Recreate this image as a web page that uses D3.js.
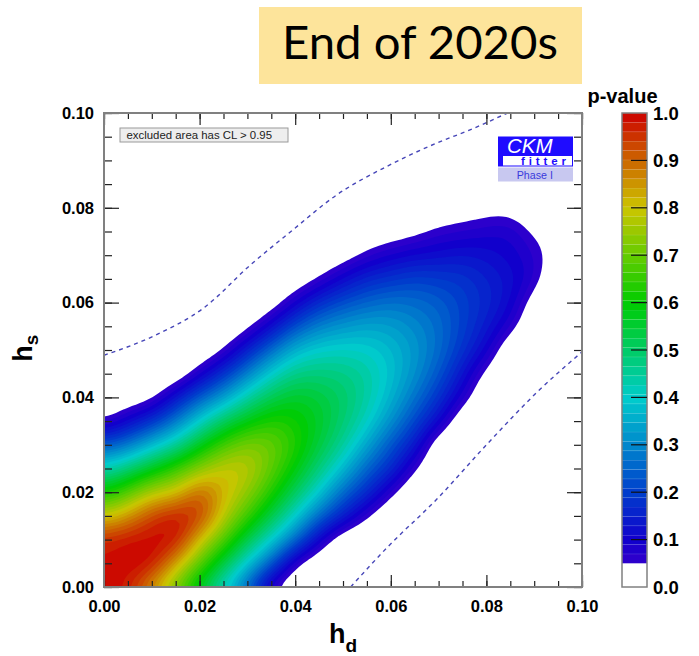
<!DOCTYPE html>
<html><head><meta charset="utf-8">
<script src="https://cdn.jsdelivr.net/npm/d3@7"></script>
<style>
html,body{margin:0;padding:0;background:#fff;}
svg{display:block;}
</style></head><body>
<svg id="chart" width="699" height="656"></svg>
<script>
// ---------------- data ----------------
// grid nodes: h_d columns and h_s rows, step 0.005
const hdNodes = [0,0.005,0.01,0.015,0.02,0.025,0.03,0.035,0.04,0.045,0.05,0.055,0.06,0.065,0.07,0.075,0.08,0.085,0.09,0.095,0.1];
const hsNodes = [0,0.005,0.01,0.015,0.02,0.025,0.03,0.035,0.04,0.045,0.05,0.055,0.06,0.065,0.07,0.075,0.08,0.085,0.09,0.095,0.1];

// p-value at each node; one row per h_s value (bottom row first)
const pValueGrid = [
  [1.00,0.97,0.85,0.71,0.56,0.41,0.25,0.05,0,0,0,0,0,0,0,0,0,0,0,0,0],
  [0.98,1.00,0.98,0.84,0.69,0.54,0.39,0.24,0.055,0,0,0,0,0,0,0,0,0,0,0,0],
  [0.96,0.98,0.99,0.98,0.81,0.68,0.53,0.40,0.26,0.10,0,0,0,0,0,0,0,0,0,0,0],
  [0.79,0.85,0.93,0.97,0.94,0.78,0.66,0.53,0.40,0.26,0.15,0.05,0,0,0,0,0,0,0,0,0],
  [0.61,0.68,0.77,0.80,0.90,0.82,0.74,0.63,0.51,0.39,0.26,0.17,0.06,0,0,0,0,0,0,0,0],
  [0.42,0.49,0.57,0.65,0.73,0.79,0.78,0.69,0.59,0.48,0.37,0.25,0.17,0.05,0,0,0,0,0,0,0],
  [0.23,0.28,0.37,0.45,0.57,0.66,0.72,0.70,0.63,0.54,0.45,0.34,0.23,0.14,0,0,0,0,0,0,0],
  [0.045,0.11,0.18,0.28,0.40,0.51,0.58,0.63,0.61,0.56,0.49,0.41,0.31,0.21,0.11,0,0,0,0,0,0],
  [0,0.01,0.03,0.13,0.24,0.33,0.44,0.52,0.56,0.54,0.50,0.44,0.36,0.27,0.18,0.075,0,0,0,0,0],
  [0,0,0,0,0.08,0.18,0.29,0.40,0.47,0.48,0.47,0.44,0.38,0.31,0.23,0.13,0.03,0,0,0,0],
  [0,0,0,0,0,0.045,0.15,0.26,0.36,0.40,0.41,0.40,0.37,0.32,0.26,0.18,0.10,0,0,0,0],
  [0,0,0,0,0,0,0.03,0.115,0.22,0.29,0.32,0.34,0.33,0.30,0.26,0.20,0.14,0.07,0,0,0],
  [0,0,0,0,0,0,0,0.015,0.09,0.17,0.22,0.25,0.27,0.26,0.24,0.20,0.16,0.11,0.02,0,0],
  [0,0,0,0,0,0,0,0,0.01,0.05,0.11,0.16,0.18,0.20,0.19,0.18,0.15,0.12,0.07,0,0],
  [0,0,0,0,0,0,0,0,0,0.005,0.02,0.06,0.09,0.11,0.12,0.13,0.12,0.10,0.07,0.02,0],
  [0,0,0,0,0,0,0,0,0,0,0,0.01,0.02,0.035,0.06,0.07,0.08,0.085,0.04,0.02,0],
  [0,0,0,0,0,0,0,0,0,0,0,0,0,0,0.01,0.02,0.03,0.03,0.005,0,0],
  [0,0,0,0,0,0,0,0,0,0,0,0,0,0,0,0,0,0,0,0,0],
  [0,0,0,0,0,0,0,0,0,0,0,0,0,0,0,0,0,0,0,0,0],
  [0,0,0,0,0,0,0,0,0,0,0,0,0,0,0,0,0,0,0,0,0],
  [0,0,0,0,0,0,0,0,0,0,0,0,0,0,0,0,0,0,0,0,0]
];

// 95% CL lines (h_d, h_s)
const upperCL = [[0,0.0489],[0.0105,0.0530],[0.0209,0.0589],[0.0307,0.068],[0.0391,0.075],[0.0488,0.0828],[0.0593,0.0888],[0.0697,0.0937],[0.0767,0.0965],[0.0844,0.1]];
const lowerCL = [[0.0516,0],[0.0593,0.0084],[0.0697,0.0186],[0.0802,0.0302],[0.0906,0.0411],[0.1,0.0496]];

const xTicks = [0,0.02,0.04,0.06,0.08,0.10];
const yTicks = [0,0.02,0.04,0.06,0.08,0.10];
const minorTicks = [0,0.005,0.01,0.015,0.02,0.025,0.03,0.035,0.04,0.045,0.05,0.055,0.06,0.065,0.07,0.075,0.08,0.085,0.09,0.095,0.1];
const zTicks = [0,0.1,0.2,0.3,0.4,0.5,0.6,0.7,0.8,0.9,1.0];

// colour palette (p-value -> colour)
const paletteStops  = [0.05,0.1,0.2,0.3,0.4,0.5,0.6,0.7,0.8,0.9,1.0];
const paletteColors = ["#3300cc","#1100cc","#003dcc","#0088cc","#00cccc","#00cc66","#00cc00","#66cc00","#ccc500","#cc6600","#cc0000"];
const clMin = 0.05, nLevels = 48;
const levels = d3.range(nLevels).map(k => clMin + k*(1-clMin)/nLevels);

// ---------------- layout ----------------
const svg = d3.select("#chart");
const P = {x0:104, x1:582, y0:113, y1:587};
const x = d3.scaleLinear().domain([0,0.1]).range([P.x0,P.x1]);
const y = d3.scaleLinear().domain([0,0.1]).range([P.y1,P.y0]);
const color = d3.scaleLinear().domain(paletteStops).range(paletteColors).interpolate(d3.interpolateRgb);
const fontAx = "'Liberation Sans', Arial, Helvetica, sans-serif";

svg.append("defs").append("clipPath").attr("id","plotclip")
  .append("rect").attr("x",P.x0).attr("y",P.y0).attr("width",P.x1-P.x0).attr("height",P.y1-P.y0);

// ---------------- filled p-value contours ----------------
// node grid resampled with a bicubic (Catmull-Rom) kernel, then lightly blurred, so the bands come out smooth
const nx = hdNodes.length, ny = hsNodes.length, F = 6;
const step = hdNodes[1]-hdNodes[0];
function node(i,j){ i=Math.max(0,Math.min(nx-1,i)); j=Math.max(0,Math.min(ny-1,j)); return pValueGrid[j][i]; }
function cr(p0,p1,p2,p3,t){ return 0.5*((2*p1)+(-p0+p2)*t+(2*p0-5*p1+4*p2-p3)*t*t+(-p0+3*p1-3*p2+p3)*t*t*t); }
function sample(fx,fy){
  const i=Math.min(nx-2,Math.floor(fx)), j=Math.min(ny-2,Math.floor(fy)), tx=fx-i, ty=fy-j;
  const rows=[-1,0,1,2].map(dj=>cr(node(i-1,j+dj),node(i,j+dj),node(i+1,j+dj),node(i+2,j+dj),tx));
  return cr(rows[0],rows[1],rows[2],rows[3],ty);
}
const mx=(nx-1)*F+1, my=(ny-1)*F+1;
const fine=new Float64Array(mx*my);
for(let b=0;b<my;b++) for(let a=0;a<mx;a++) fine[b*mx+a]=sample(a/F,b/F);
d3.blur2({data:fine, width:mx, height:my}, 2);

const contours = d3.contours().size([mx,my]).thresholds(levels)(fine);
const toPx = d3.geoTransform({point(gxv,gyv){ this.stream.point(x(hdNodes[0]+(gxv-0.5)/F*step), y(hsNodes[0]+(gyv-0.5)/F*step)); }});
const path = d3.geoPath(toPx);
const field = svg.append("g").attr("clip-path","url(#plotclip)");
contours.forEach((c,k) => {
  const next = k+1 < levels.length ? levels[k+1] : 1;
  field.append("path").attr("d",path(c)).attr("fill",color((c.value+next)/2));
});

// ---------------- dashed CL lines ----------------
const clLine = d3.line().x(d=>x(d[0])).y(d=>y(d[1])).curve(d3.curveMonotoneX);
[upperCL, lowerCL].forEach(s => svg.append("path").attr("d",clLine(s)).attr("fill","none")
  .attr("stroke","#4646b8").attr("stroke-width",1.4).attr("stroke-dasharray","4,4").attr("clip-path","url(#plotclip)"));

// ---------------- axes ----------------
function styleAxis(g){ g.select(".domain").remove(); g.selectAll(".tick line").attr("stroke","#222").attr("stroke-width",1.2); }
function styleLabels(sel){ sel.attr("font-family",fontAx).attr("font-weight","bold").attr("font-size",16.5).attr("fill","#000"); }
svg.append("g").attr("transform",`translate(0,${P.y1})`).call(d3.axisBottom(x).tickValues(minorTicks).tickSize(-6).tickFormat("")).call(styleAxis);
svg.append("g").attr("transform",`translate(0,${P.y1})`).call(d3.axisBottom(x).tickValues(xTicks).tickSize(-12).tickPadding(13.5).tickFormat(d3.format(".2f"))).call(styleAxis)
  .selectAll("text").call(styleLabels);
svg.append("g").attr("transform",`translate(0,${P.y0})`).call(d3.axisTop(x).tickValues(minorTicks).tickSize(-6).tickFormat("")).call(styleAxis);
svg.append("g").attr("transform",`translate(0,${P.y0})`).call(d3.axisTop(x).tickValues(xTicks).tickSize(-12).tickFormat("")).call(styleAxis);
svg.append("g").attr("transform",`translate(${P.x0},0)`).call(d3.axisLeft(y).tickValues(minorTicks).tickSize(-8).tickFormat("")).call(styleAxis);
svg.append("g").attr("transform",`translate(${P.x0},0)`).call(d3.axisLeft(y).tickValues(yTicks).tickSize(-15).tickPadding(10).tickFormat(d3.format(".2f"))).call(styleAxis)
  .selectAll("text").call(styleLabels);
svg.append("g").attr("transform",`translate(${P.x1},0)`).call(d3.axisRight(y).tickValues(minorTicks).tickSize(-8).tickFormat("")).call(styleAxis);
svg.append("g").attr("transform",`translate(${P.x1},0)`).call(d3.axisRight(y).tickValues(yTicks).tickSize(-15).tickFormat("")).call(styleAxis);
svg.append("rect").attr("x",P.x0).attr("y",P.y0).attr("width",P.x1-P.x0).attr("height",P.y1-P.y0)
  .attr("fill","none").attr("stroke","#808080").attr("stroke-width",2);

// axis titles
const xt = svg.append("text").attr("x",329).attr("y",643).attr("font-family",fontAx).attr("font-weight","bold").attr("font-size",27);
xt.append("tspan").text("h"); xt.append("tspan").attr("font-size",19).attr("dy",9).text("d");
const yt = svg.append("text").attr("transform","translate(31.7,361.7) rotate(-90)").attr("font-family",fontAx).attr("font-weight","bold").attr("font-size",27);
yt.append("tspan").text("h"); yt.append("tspan").attr("font-size",19).attr("dy",6.6).text("s");

// ---------------- note box ----------------
svg.append("rect").attr("x",120).attr("y",128).attr("width",168).attr("height",14).attr("fill","#eeeeee").attr("stroke","#9a9a9a").attr("stroke-width",1);
svg.append("text").attr("x",126.5).attr("y",139).attr("font-family",fontAx).attr("font-size",11.4).attr("fill","#222").text("excluded area has CL > 0.95");

// ---------------- CKMfitter logo ----------------
const lg = svg.append("g");
lg.append("rect").attr("x",498).attr("y",136.5).attr("width",75).attr("height",30).attr("fill","#1f0cff");
lg.append("rect").attr("x",503).attr("y",156).attr("width",69).attr("height",9.5).attr("fill","#fff");
lg.append("text").attr("x",507).attr("y",152.5).attr("font-family",fontAx).attr("font-style","italic").attr("font-size",20.5).attr("fill","#fff").text("CKM");
lg.append("text").attr("x",521).attr("y",165).attr("font-family",fontAx).attr("font-weight","bold").attr("font-size",11.5).attr("letter-spacing",3.9).attr("fill","#1f0cff").text("fitter");
lg.append("rect").attr("x",498).attr("y",167.5).attr("width",75).attr("height",14).attr("fill","#c8c8f0");
lg.append("text").attr("x",516.7).attr("y",179).attr("font-family",fontAx).attr("font-size",10.7).attr("fill","#3a3adc").text("Phase I");

// ---------------- colour bar ----------------
const CB = {x0:622, x1:647};
const yc = d3.scaleLinear().domain([0,1]).range([P.y1,P.y0]);
const cb = svg.append("g");
levels.forEach((l,k) => {
  const nx2 = k+1 < levels.length ? levels[k+1] : 1;
  cb.append("rect").attr("x",CB.x0).attr("y",yc(nx2)).attr("width",CB.x1-CB.x0).attr("height",yc(l)-yc(nx2)).attr("fill",color((l+nx2)/2));
  cb.append("line").attr("x1",CB.x0).attr("x2",CB.x1).attr("y1",yc(nx2)).attr("y2",yc(nx2)).attr("stroke","rgba(255,255,255,0.18)").attr("stroke-width",0.8);
});
cb.append("rect").attr("x",CB.x0).attr("y",P.y0).attr("width",CB.x1-CB.x0).attr("height",P.y1-P.y0).attr("fill","none").attr("stroke","#808080").attr("stroke-width",1.5);
zTicks.forEach(t => {
  if (t>0 && t<1) cb.append("line").attr("x1",631).attr("x2",CB.x1).attr("y1",yc(t)).attr("y2",yc(t)).attr("stroke","#111").attr("stroke-width",1.2);
  cb.append("text").attr("x",653).attr("y",yc(t)).attr("dy","0.36em").attr("font-family",fontAx).attr("font-weight","bold").attr("font-size",18.5).text(d3.format(".1f")(t));
});
svg.append("text").attr("x",622.5).attr("y",102.5).attr("text-anchor","middle").attr("font-family",fontAx).attr("font-weight","bold").attr("font-size",20).text("p-value");

// ---------------- title banner ----------------
svg.append("rect").attr("x",259).attr("y",7).attr("width",323).attr("height",77).attr("fill","#fde49b");
const tt = svg.append("text").attr("x",282).attr("y",59).attr("font-family","Lato, 'Open Sans', sans-serif").attr("font-size",46).attr("fill","#000").text("End of 2020s");
const tw = tt.node().getComputedTextLength(); tt.attr("font-size",46*276/tw);
</script></body></html>
